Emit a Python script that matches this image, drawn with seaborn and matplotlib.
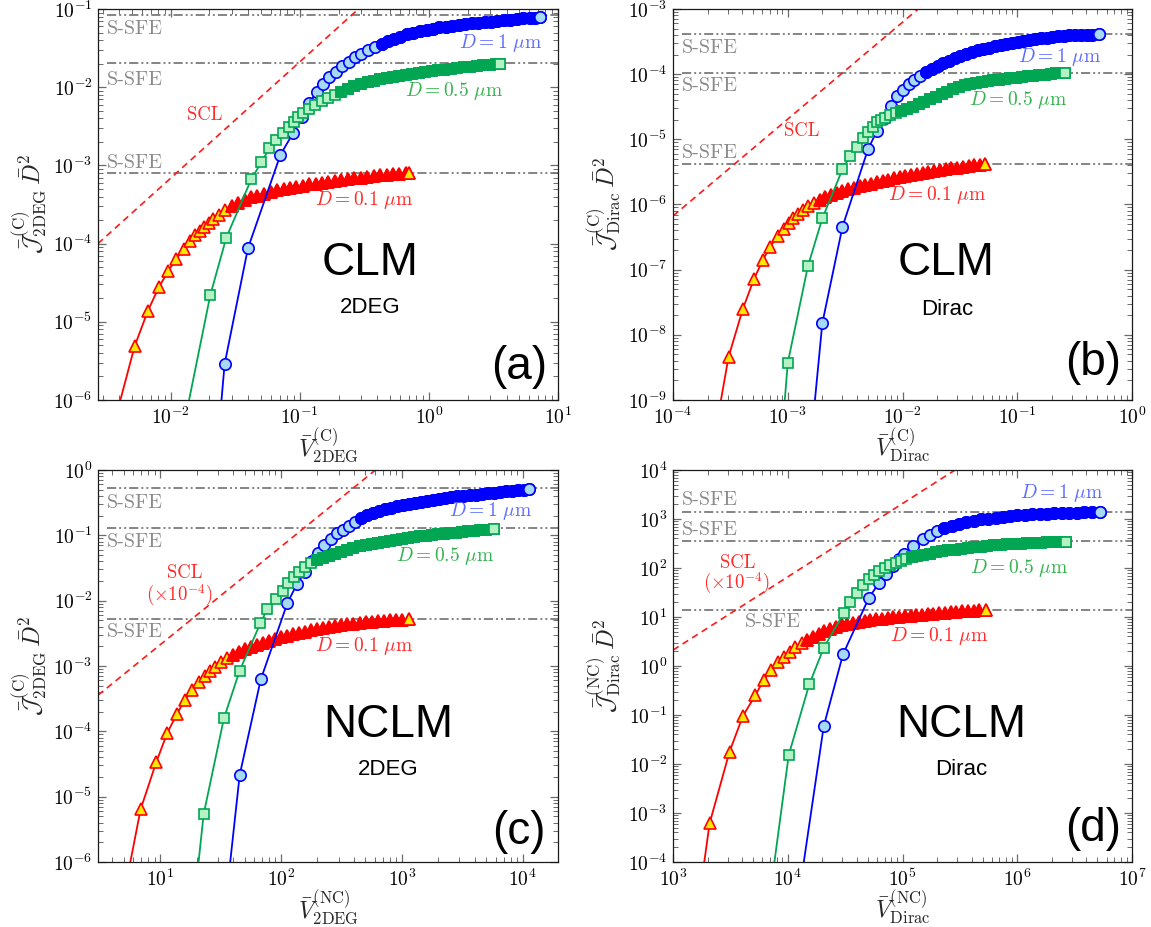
import sys
import numpy as np
import pandas as pd
import matplotlib
matplotlib.use("Agg")
import matplotlib.pyplot as plt
from matplotlib.ticker import FixedLocator, FuncFormatter, NullFormatter
import seaborn as sns

# ---------------------------------------------------------------- data
# panel (a): CLM, 2DEG
a_red_v = [0.00382, 0.00527, 0.00668, 0.00809, 0.00955, 0.01107, 0.01262, 0.01403, 0.01535, 0.0168, 0.01815,
           0.0197, 0.0213, 0.0235, 0.0265, 0.030, 0.0335, 0.0375, 0.042, 0.047, 0.053, 0.060, 0.067, 0.075,
           0.084, 0.094, 0.106, 0.119, 0.133, 0.149, 0.167, 0.188, 0.21, 0.236, 0.265, 0.297, 0.333, 0.374,
           0.42, 0.47, 0.53, 0.59, 0.66, 0.70]
a_red_j = [6.6e-7, 4.9e-6, 1.39e-5, 2.75e-5, 4.4e-5, 6.4e-5, 8.45e-5, 1.08e-4, 1.28e-4, 1.47e-4, 1.65e-4,
           1.86e-4, 2.06e-4, 2.34e-4, 2.69e-4, 3.0e-4, 3.33e-4, 3.62e-4, 3.9e-4, 4.1e-4, 4.36e-4, 4.57e-4,
           4.8e-4, 4.95e-4, 5.14e-4, 5.32e-4, 5.52e-4, 5.7e-4, 5.86e-4, 6.04e-4, 6.2e-4, 6.35e-4, 6.5e-4,
           6.64e-4, 6.8e-4, 6.93e-4, 7.1e-4, 7.26e-4, 7.43e-4, 7.59e-4, 7.75e-4, 7.87e-4, 8.0e-4, 8.1e-4]
a_blue_v = [0.0107, 0.0262, 0.0397, 0.0708, 0.0891, 0.104, 0.119, 0.135, 0.152, 0.17, 0.19, 0.213, 0.24,
            0.27, 0.30, 0.34, 0.38, 0.43, 0.48, 0.54, 0.60, 0.68, 0.76, 0.85, 0.96, 1.07, 1.2, 1.36, 1.52,
            1.7, 1.91, 2.14, 2.4, 2.7, 3.03, 3.4, 3.8, 4.27, 4.8, 5.4, 6.05, 6.6, 7.23]
a_blue_j = [1.3e-13, 2.88e-6, 8.7e-5, 1.36e-3, 2.62e-3, 4.1e-3, 6.3e-3, 8.7e-3, 0.0111, 0.0135, 0.0155,
            0.0185, 0.0212, 0.024, 0.0265, 0.0295, 0.0322, 0.0355, 0.0385, 0.0415, 0.044, 0.0475, 0.050,
            0.0525, 0.0545, 0.0562, 0.058, 0.0595, 0.061, 0.0625, 0.064, 0.0653, 0.0665, 0.0678, 0.069,
            0.0705, 0.0718, 0.0732, 0.0745, 0.0758, 0.077, 0.0775, 0.078]
a_green_v = [0.0125, 0.0203, 0.027, 0.0422, 0.0505, 0.0582, 0.066, 0.0746, 0.0824, 0.0903, 0.0976, 0.1054,
             0.118, 0.132, 0.148, 0.166, 0.186, 0.21, 0.235, 0.265, 0.30, 0.335, 0.375, 0.42, 0.47, 0.53,
             0.59, 0.665, 0.745, 0.835, 0.94, 1.05, 1.18, 1.32, 1.48, 1.66, 1.87, 2.1, 2.35, 2.63, 2.95,
             3.3, 3.55]
a_green_j = [4.2e-7, 2.2e-5, 1.19e-4, 6.7e-4, 1.1e-3, 1.65e-3, 2.1e-3, 2.57e-3, 3.06e-3, 3.6e-3, 4.2e-3,
             4.7e-3, 5.3e-3, 5.9e-3, 6.6e-3, 7.3e-3, 8.0e-3, 8.8e-3, 9.5e-3, 0.0103, 0.0111, 0.01167,
             0.01213, 0.0126, 0.0131, 0.0136, 0.014, 0.0144, 0.01484, 0.01523, 0.01564, 0.016, 0.01636,
             0.0167, 0.0171, 0.01748, 0.0179, 0.0183, 0.01868, 0.01902, 0.01937, 0.01974, 0.0198]
a_sfe = [0.084, 0.0206, 8.1e-4]
a_scl_v = [2.74e-3, 0.285]
a_scl_j = [1e-4, 1e-1]

# panel (b): CLM, Dirac
b_red_v = [2.05e-4, 3.05e-4, 4.06e-4, 5.06e-4, 6.07e-4, 7.02e-4, 8.2e-4, 9.2e-4, 1.02e-3, 1.12e-3, 1.22e-3,
           1.35e-3, 1.5e-3, 1.68e-3, 1.9e-3, 2.12e-3, 2.38e-3, 2.67e-3, 3.0e-3, 3.36e-3, 3.77e-3, 4.23e-3,
           4.75e-3, 5.33e-3, 5.98e-3, 6.7e-3, 7.5e-3, 8.45e-3, 9.5e-3, 0.0106, 0.0119, 0.0134, 0.015,
           0.0168, 0.0189, 0.0212, 0.0238, 0.0267, 0.030, 0.0336, 0.0377, 0.0423, 0.0475, 0.0519]
b_red_j = [8.7e-11, 4.6e-9, 2.49e-8, 7.1e-8, 1.41e-7, 2.25e-7, 3.3e-7, 4.2e-7, 5.15e-7, 6.1e-7, 7.1e-7,
           8.3e-7, 9.55e-7, 1.07e-6, 1.19e-6, 1.29e-6, 1.40e-6, 1.50e-6, 1.60e-6, 1.70e-6, 1.80e-6, 1.91e-6,
           2.0e-6, 2.09e-6, 2.19e-6, 2.29e-6, 2.40e-6, 2.51e-6, 2.60e-6, 2.69e-6, 2.82e-6, 2.92e-6, 3.02e-6,
           3.13e-6, 3.24e-6, 3.35e-6, 3.47e-6, 3.57e-6, 3.67e-6, 3.78e-6, 3.89e-6, 4.0e-6, 4.1e-6, 4.19e-6]
b_blue_v = [1.0e-3, 2.0e-3, 3.0e-3, 5.0e-3, 6.0e-3, 7.0e-3, 8.0e-3, 9.0e-3, 0.0101, 0.0113, 0.0127, 0.0142,
            0.016, 0.018, 0.0202, 0.0226, 0.0254, 0.0285, 0.032, 0.0359, 0.0403, 0.0452, 0.0507, 0.0569,
            0.0638, 0.0716, 0.0803, 0.0901, 0.101, 0.113, 0.127, 0.143, 0.16, 0.18, 0.202, 0.226, 0.254,
            0.285, 0.32, 0.359, 0.403, 0.452, 0.514]
b_blue_j = [4.4e-14, 1.5e-8, 4.57e-7, 7.0e-6, 1.36e-5, 2.16e-5, 3.24e-5, 4.6e-5, 5.7e-5, 7.0e-5, 8.2e-5,
            9.4e-5, 1.07e-4, 1.2e-4, 1.34e-4, 1.48e-4, 1.62e-4, 1.76e-4, 1.9e-4, 2.04e-4, 2.18e-4, 2.31e-4,
            2.44e-4, 2.56e-4, 2.72e-4, 2.84e-4, 2.95e-4, 3.06e-4, 3.16e-4, 3.26e-4, 3.36e-4, 3.45e-4,
            3.54e-4, 3.63e-4, 3.72e-4, 3.79e-4, 3.86e-4, 3.93e-4, 3.98e-4, 4.02e-4, 4.05e-4, 4.06e-4, 4.08e-4]
b_green_v = [5e-4, 1.0e-3, 1.5e-3, 2.0e-3, 3.0e-3, 3.5e-3, 4.0e-3, 4.5e-3, 5.0e-3, 5.5e-3, 6.0e-3, 6.5e-3,
             7.0e-3, 7.8e-3, 8.7e-3, 9.8e-3, 0.011, 0.0123, 0.0138, 0.0155, 0.0174, 0.0195, 0.0219, 0.0246,
             0.0276, 0.031, 0.0348, 0.039, 0.0438, 0.0491, 0.0551, 0.0618, 0.0694, 0.0778, 0.0873, 0.098,
             0.11, 0.123, 0.138, 0.155, 0.174, 0.195, 0.219, 0.245, 0.26]
b_green_j = [9e-16, 3.7e-9, 1.14e-7, 6.1e-7, 3.47e-6, 5.5e-6, 7.7e-6, 1.03e-5, 1.31e-5, 1.56e-5, 1.83e-5,
             2.0e-5, 2.14e-5, 2.34e-5, 2.54e-5, 2.75e-5, 2.95e-5, 3.16e-5, 3.45e-5, 3.77e-5, 4.12e-5,
             4.49e-5, 4.9e-5, 5.35e-5, 5.9e-5, 6.35e-5, 6.75e-5, 7.1e-5, 7.4e-5, 7.62e-5, 7.85e-5, 8.05e-5,
             8.26e-5, 8.47e-5, 8.65e-5, 8.83e-5, 9.03e-5, 9.22e-5, 9.44e-5, 9.66e-5, 9.87e-5, 1.007e-4,
             1.026e-4, 1.045e-4, 1.055e-4]
b_sfe = [4.2e-4, 1.05e-4, 4.19e-6]
b_scl_v = [1e-4, 0.0137]
b_scl_j = [6.67e-7, 1e-3]

# panel (c): NCLM, 2DEG
c_red_v = [4.52, 6.89, 9.28, 11.46, 13.77, 16.0, 18.4, 20.9, 23.3, 25.7, 28.2, 31.6, 35.5, 39.8, 44.7, 50,
           56, 63, 71, 79, 89, 100, 112, 126, 141, 158, 178, 200, 224, 251, 282, 316, 355, 398, 447, 501,
           562, 631, 708, 794, 891, 1000, 1148]
c_red_j = [1.17e-7, 6.4e-6, 3.36e-5, 9.5e-5, 1.84e-4, 3.02e-4, 4.25e-4, 5.75e-4, 7.0e-4, 8.4e-4, 9.8e-4,
           1.15e-3, 1.32e-3, 1.48e-3, 1.64e-3, 1.80e-3, 1.95e-3, 2.11e-3, 2.26e-3, 2.43e-3, 2.58e-3,
           2.74e-3, 2.9e-3, 3.05e-3, 3.21e-3, 3.36e-3, 3.51e-3, 3.66e-3, 3.8e-3, 3.94e-3, 4.08e-3, 4.22e-3,
           4.35e-3, 4.47e-3, 4.58e-3, 4.69e-3, 4.79e-3, 4.88e-3, 4.95e-3, 5.02e-3, 5.08e-3, 5.13e-3, 5.15e-3]
c_blue_v = [22.8, 45.5, 68, 113, 136, 158, 181, 204, 229, 257, 288, 324, 363, 407, 457, 513, 575, 646, 724,
            813, 912, 1023, 1148, 1288, 1445, 1622, 1820, 2042, 2291, 2570, 2884, 3236, 3631, 4074, 4571,
            5129, 5754, 6457, 7244, 8128, 9120, 10230, 11300]
c_blue_j = [1.7e-10, 2.14e-5, 6.22e-4, 9.2e-3, 1.82e-2, 2.75e-2, 3.98e-2, 5.37e-2, 7.08e-2, 8.91e-2, 0.1096,
            0.1213, 0.1377, 0.16, 0.1837, 0.2014, 0.2178, 0.2339, 0.25, 0.2642, 0.2793, 0.2911, 0.3027,
            0.3155, 0.3281, 0.3404, 0.3516, 0.3622, 0.3724, 0.3828, 0.3936, 0.4027, 0.4111, 0.4207, 0.4295,
            0.4395, 0.4498, 0.4603, 0.4699, 0.4797, 0.4887, 0.4977, 0.5058]
c_green_v = [11.8, 22.9, 33.7, 45.5, 67.5, 77, 90.8, 103, 115, 128, 142, 158, 178, 200, 224, 251, 282, 316,
             355, 398, 447, 501, 562, 631, 708, 794, 891, 1000, 1122, 1259, 1413, 1585, 1778, 1995, 2239,
             2512, 2818, 3162, 3548, 3981, 4467, 5012, 5755]
c_green_j = [5.2e-11, 5.37e-6, 1.58e-4, 8.5e-4, 4.5e-3, 7.4e-3, 1.06e-2, 1.42e-2, 1.85e-2, 2.27e-2, 2.78e-2,
             3.3e-2, 3.8e-2, 4.2e-2, 4.57e-2, 4.9e-2, 5.2e-2, 5.6e-2, 5.95e-2, 6.4e-2, 6.78e-2, 7.1e-2,
             7.38e-2, 7.69e-2, 8.0e-2, 8.28e-2, 8.57e-2, 8.83e-2, 9.08e-2, 9.38e-2, 9.64e-2, 9.86e-2,
             0.1007, 0.103, 0.105, 0.1076, 0.110, 0.1125, 0.115, 0.1175, 0.1197, 0.122, 0.1247]
c_sfe = [0.524, 0.131, 5.15e-3]
c_scl_v = [3.06, 605]
c_scl_j = [3.57e-4, 1.0]

# panel (d): NCLM, Dirac
d_red_v = [1040, 2084, 3111, 4061, 5234, 6183, 7211, 8241, 9355, 10470, 11660, 13180, 14790, 16600, 18620,
           20890, 23440, 26300, 29510, 33110, 37150, 41690, 46770, 52480, 58880, 66070, 74130, 83180, 93330,
           104700, 117500, 131800, 147900, 166000, 186200, 208900, 234400, 263000, 295100, 331100, 371500,
           416900, 467700, 530000]
d_red_j = [4.6e-9, 6.15e-4, 1.79e-2, 9.5e-2, 0.256, 0.518, 0.83, 1.19, 1.55, 1.96, 2.4, 2.88, 3.39, 3.94,
           4.52, 5.13, 5.71, 6.24, 6.71, 7.16, 7.57, 7.95, 8.3, 8.6, 8.9, 9.2, 9.5, 9.8, 10.1, 10.4, 10.7,
           10.95, 11.2, 11.45, 11.7, 11.95, 12.2, 12.45, 12.7, 12.95, 13.2, 13.4, 13.6, 13.8]
d_blue_v = [10300, 20600, 30300, 51000, 62200, 72000, 82000, 93000, 103000, 123000, 150000, 172000, 200000,
            230000, 270000, 313000, 360000, 420000, 480000, 560000, 650000, 750000, 870000, 1000000,
            1170000, 1350000, 1570000, 1820000, 2100000, 2450000, 2850000, 3300000, 3850000, 4500000,
            5250000]
d_blue_j = [9.5e-7, 5.97e-2, 1.73, 24.8, 48.8, 75.9, 110, 151, 195, 282, 398, 479, 562, 646, 724, 794, 861,
            923, 977, 1023, 1072, 1109, 1148, 1180, 1211, 1239, 1265, 1288, 1306, 1324, 1340, 1352, 1358,
            1361, 1365]
d_green_v = [5100, 10200, 15400, 20600, 30700, 34600, 40000, 45200, 51000, 57000, 63000, 70000, 78000,
             87000, 97000, 108000, 120000, 135000, 152000, 172000, 195000, 220000, 250000, 285000, 325000,
             370000, 420000, 480000, 550000, 630000, 720000, 820000, 940000, 1070000, 1220000, 1400000,
             1600000, 1830000, 2100000, 2370000, 2640000]
d_green_j = [8.3e-8, 1.53e-2, 0.423, 2.35, 12.0, 20.5, 31.3, 45, 58.6, 71.9, 88, 102, 116, 129, 141, 153,
             164, 176, 186, 197, 208, 218, 228, 237, 247, 256, 264, 273, 281, 289, 296, 303, 310, 316, 321,
             327, 331, 336, 340, 342, 344]
d_sfe = [1410, 355, 13.8]
d_scl_v = [1e3, 2.87e5]
d_scl_j = [2.11, 1e4]

d_labels = [r"$D = 1\ \mu\mathrm{m}$", r"$D = 0.5\ \mu\mathrm{m}$", r"$D = 0.1\ \mu\mathrm{m}$"]

# ---------------------------------------------------------------- style
sns.set_theme(style="ticks")
plt.rcParams.update({
    "mathtext.fontset": "cm",
    "font.family": ["DejaVu Serif"],
    "axes.formatter.use_mathtext": True,
    "axes.unicode_minus": True,
})

STY = {
    "blue": dict(marker="o", ms=8.2, mfc="#a6d9f2", mec="#0000ff", line="#0000ff"),
    "green": dict(marker="s", ms=7.0, mfc="#b4f2c6", mec="#00a651", line="#00a651"),
    "red": dict(marker="^", ms=9.0, mfc="#ffe800", mec="#ff0000", line="#ff0000"),
}
LBL_COL = {"blue": "#5d6cff", "green": "#33b24f", "red": "#ff2a2a"}

W, H = 1151, 927
fig = plt.figure(figsize=(W / 100, H / 100), dpi=100)


def rect(l, r, t, b):
    return [l / W, (H - b) / H, (r - l) / W, (b - t) / H]


def draw(ax, v, j, key, solid_from, z):
    n = min(len(v), len(j))
    if len(v) != len(j):
        print("length mismatch", key, len(v), len(j), file=sys.stderr)
    st = STY[key]
    df = pd.DataFrame({"V": v[:n], "J": j[:n]})
    sns.lineplot(data=df, x="V", y="J", ax=ax, estimator=None, sort=False, color=st["line"],
                 linewidth=1.3, marker=st["marker"], markersize=st["ms"], markerfacecolor=st["mfc"],
                 markeredgecolor=st["mec"], markeredgewidth=1.2, zorder=z)
    tail = df[df["V"] >= solid_from]
    if len(tail) > 1:
        body = tail.iloc[:-1]
        ax.plot(body["V"], body["J"], ls="none", marker=st["marker"], ms=st["ms"], mfc=st["mec"],
                mec=st["mec"], mew=1.2, zorder=z)
        last = tail.iloc[-1:]
        ax.plot(last["V"], last["J"], ls="none", marker=st["marker"], ms=st["ms"], mfc=st["mfc"],
                mec=st["mec"], mew=1.2, zorder=z)


def fmt(v, pos):
    return r"$10^{%d}$" % int(round(np.log10(v)))


def decade_ticks(lo, hi):
    e0 = int(np.ceil(np.log10(lo) - 1e-9))
    e1 = int(np.floor(np.log10(hi) + 1e-9))
    major = [10.0 ** e for e in range(e0, e1 + 1)]
    minor = [k * 10.0 ** e for e in range(e0 - 1, e1 + 1) for k in range(2, 10)
             if lo <= k * 10.0 ** e <= hi]
    return major, minor


panels = [
    dict(rect=rect(98, 558, 9, 400), xlim=(2.74e-3, 10), ylim=(1e-6, 1e-1),
         red=(a_red_v, a_red_j, 0.03), blue=(a_blue_v, a_blue_j, 0.40), green=(a_green_v, a_green_j, 0.2),
         sfe=a_sfe, scl=(a_scl_v, a_scl_j),
         sfe_pos=[(0.02, 0.948), (0.02, 0.818), (0.02, 0.607)],
         scl_txt=[("SCL", 0.231, 0.729)],
         dpos=[(0.965, 0.914), (0.88, 0.791), (0.684, 0.512)],
         model=("CLM", 0.591, 0.35), sub=("2DEG", 0.591, 0.236), tag=("(a)", 0.915, 0.085),
         xl=r"$\bar{V}^{(\mathrm{C})}_{\mathrm{2DEG}}$",
         yl=r"$\bar{\mathcal{J}}^{(\mathrm{C})}_{\mathrm{2DEG}}\,\bar{D}^2$"),
    dict(rect=rect(673, 1132, 9, 400), xlim=(1e-4, 1), ylim=(1e-9, 1e-3),
         red=(b_red_v, b_red_j, 1.7e-3), blue=(b_blue_v, b_blue_j, 0.016), green=(b_green_v, b_green_j, 9.5e-3),
         sfe=b_sfe, scl=(b_scl_v, b_scl_j),
         sfe_pos=[(0.02, 0.901), (0.02, 0.803), (0.02, 0.631)],
         scl_txt=[("SCL", 0.281, 0.688)],
         dpos=[(0.932, 0.878), (0.858, 0.767), (0.683, 0.525)],
         model=("CLM", 0.594, 0.35), sub=("Dirac", 0.597, 0.232), tag=("(b)", 0.916, 0.094),
         xl=r"$\bar{V}^{(\mathrm{C})}_{\mathrm{Dirac}}$",
         yl=r"$\bar{\mathcal{J}}^{(\mathrm{C})}_{\mathrm{Dirac}}\,\bar{D}^2$"),
    dict(rect=rect(98, 558, 470, 862), xlim=(3.06, 1.96e4), ylim=(1e-6, 1),
         red=(c_red_v, c_red_j, 38), blue=(c_blue_v, c_blue_j, 420), green=(c_green_v, c_green_j, 195),
         sfe=c_sfe, scl=(c_scl_v, c_scl_j),
         sfe_pos=[(0.02, 0.915), (0.02, 0.817), (0.02, 0.587)],
         scl_txt=[("SCL", 0.188, 0.738), (r"$(\times10^{-4})$", 0.178, 0.681)],
         dpos=[(0.943, 0.896), (0.862, 0.781), (0.684, 0.552)],
         model=("NCLM", 0.632, 0.349), sub=("2DEG", 0.63, 0.236), tag=("(c)", 0.915, 0.077),
         xl=r"$\bar{V}^{(\mathrm{NC})}_{\mathrm{2DEG}}$",
         yl=r"$\bar{\mathcal{J}}^{(\mathrm{C})}_{\mathrm{2DEG}}\,\bar{D}^2$"),
    dict(rect=rect(673, 1132, 470, 862), xlim=(1e3, 1e7), ylim=(1e-4, 1e4),
         red=(d_red_v, d_red_j, 1.4e4), blue=(d_blue_v, d_blue_j, 2.2e5), green=(d_green_v, d_green_j, 1.1e5),
         sfe=d_sfe, scl=(d_scl_v, d_scl_j),
         sfe_pos=[(0.02, 0.923), (0.02, 0.847), (0.157, 0.611)],
         scl_txt=[("SCL", 0.14, 0.763), (r"$(\times10^{-4})$", 0.137, 0.711)],
         dpos=[(0.937, 0.942), (0.861, 0.751), (0.687, 0.577)],
         model=("NCLM", 0.627, 0.349), sub=("Dirac", 0.627, 0.235), tag=("(d)", 0.916, 0.085),
         xl=r"$\bar{V}^{(\mathrm{NC})}_{\mathrm{Dirac}}$",
         yl=r"$\bar{\mathcal{J}}^{(\mathrm{NC})}_{\mathrm{Dirac}}\,\bar{D}^2$"),
]

for P in panels:
    ax = fig.add_axes(P["rect"])
    ax.set_xscale("log")
    ax.set_yscale("log")

    # S-SFE reference levels
    for lev in P["sfe"]:
        ax.axhline(lev, xmin=0.02, xmax=1.0, color="#707070", lw=1.2,
                   ls=(0, (5.5, 1.8, 1.2, 1.8, 1.2, 1.8)), zorder=2)
    # SCL
    sv, sj = P["scl"]
    ax.plot(sv, sj, color="#ff1a1a", lw=1.2, ls=(0, (4.0, 2.8)), zorder=2)

    draw(ax, *P["red"][:2], "red", P["red"][2], 3)
    draw(ax, *P["blue"][:2], "blue", P["blue"][2], 4)
    draw(ax, *P["green"][:2], "green", P["green"][2], 5)

    ax.set_xlim(*P["xlim"])
    ax.set_ylim(*P["ylim"])

    for (x, y) in P["sfe_pos"]:
        ax.text(x, y, "S-SFE", transform=ax.transAxes, ha="left", va="center", fontsize=14.5,
                color="#8a8a8a", family=["cmr10"], zorder=10)
    for (s, x, y) in P["scl_txt"]:
        ax.text(x, y, s, transform=ax.transAxes, ha="center", va="center", fontsize=13.5,
                color="#ff2a2a", family=["cmr10"], zorder=10)
    for key, lab, (x, y) in zip(["blue", "green", "red"], d_labels, P["dpos"]):
        ax.text(x, y, lab, transform=ax.transAxes, ha="right", va="center", fontsize=14,
                color=LBL_COL[key], zorder=10)
    s, x, y = P["model"]
    ax.text(x, y, s, transform=ax.transAxes, ha="center", va="center", fontsize=33,
            family=["Liberation Sans"], color="black", zorder=10)
    s, x, y = P["sub"]
    ax.text(x, y, s, transform=ax.transAxes, ha="center", va="center", fontsize=16,
            family=["Liberation Sans"], color="black", zorder=10)
    s, x, y = P["tag"]
    ax.text(x, y, s, transform=ax.transAxes, ha="center", va="center", fontsize=33,
            family=["Liberation Sans"], color="black", zorder=10)

    for axis, lim in ((ax.xaxis, P["xlim"]), (ax.yaxis, P["ylim"])):
        major, minor = decade_ticks(*lim)
        axis.set_major_locator(FixedLocator(major))
        axis.set_minor_locator(FixedLocator(minor))
        axis.set_major_formatter(FuncFormatter(fmt))
        axis.set_minor_formatter(NullFormatter())
    ax.tick_params(which="both", direction="in", top=True, right=True, color="#6a6a6a",
                   labelcolor="black")
    ax.tick_params(which="major", length=6, width=0.9, labelsize=14)
    ax.tick_params(axis="x", which="major", pad=5)
    ax.tick_params(axis="y", which="major", pad=4)
    ax.tick_params(which="minor", length=3.5, width=0.7)
    for sp in ax.spines.values():
        sp.set_color("#1a1a1a")
        sp.set_linewidth(0.9)
    ax.set_xlabel(P["xl"], fontsize=17, labelpad=-1)
    ax.set_ylabel(P["yl"], fontsize=17.5, labelpad=3)
    ax.grid(False)

fig.savefig("out.png", dpi=100)
